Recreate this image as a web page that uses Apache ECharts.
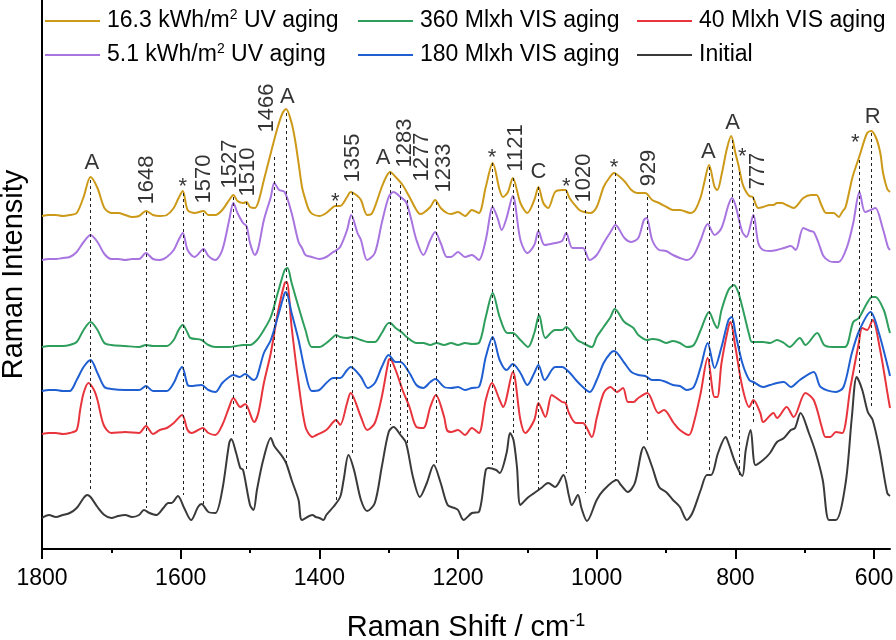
<!DOCTYPE html>
<html><head><meta charset="utf-8">
<script src="https://cdn.jsdelivr.net/npm/echarts@6/dist/echarts.min.js"></script>
<style>html,body{margin:0;padding:0;background:#fff}#c{width:896px;height:640px}</style>
</head><body><div id="c"></div>
<script>
// ---------- data (Raman shift in cm-1, intensity in offset arbitrary units) ----------
const seriesNames = ['16.3 kWh/m2 UV aging','360 Mlxh VIS aging','40 Mlxh VIS aging','5.1 kWh/m2 UV aging','180 Mlxh VIS aging','Initial'];
const majorTicks = [1800,1600,1400,1200,1000,800,600];
const minorTicks = [1700,1500,1300,1100,900,700];

const uv16 = [[1800,332],[1790,333],[1780,333],[1770,332],[1760,333],[1750,335],[1740,351],[1730,371],[1720,360],[1710,340],[1700,335],[1690,335],[1680,333],[1670,331],[1660,332],[1650,337],[1640,333],[1630,332],[1620,333],[1610,340],[1603,350],[1597,357],[1590,338],[1580,335],[1567,337],[1560,333],[1550,333],[1540,338],[1530,348],[1524,353],[1518,347],[1510,345],[1505,346],[1500,341],[1493,340],[1488,346],[1480,368],[1470,395],[1460,421],[1453,435],[1448,439],[1440,425],[1435,408],[1430,385],[1425,361],[1420,348],[1415,338],[1410,334],[1400,332],[1390,335],[1380,341],[1377,342],[1370,342],[1360,351],[1355,356],[1345,352],[1340,348],[1331,333],[1325,334],[1320,341],[1310,361],[1303,372],[1298,376],[1290,371],[1280,363],[1270,351],[1260,338],[1255,334],[1250,335],[1240,341],[1233,348],[1225,340],[1216,335],[1210,334],[1200,336],[1190,332],[1180,338],[1170,335],[1160,361],[1150,385],[1140,358],[1135,351],[1128,356],[1121,370],[1110,345],[1100,335],[1090,348],[1084,361],[1077,345],[1070,340],[1060,356],[1050,358],[1045,358],[1040,351],[1034,345],[1025,338],[1018,336],[1009,335],[1000,341],[990,361],[982,370],[975,375],[968,372],[959,366],[950,358],[942,355],[930,355],[920,348],[910,345],[899,341],[890,338],[880,338],[865,335],[858,338],[850,351],[845,365],[838,383],[830,361],[826,358],[820,373],[812,400],[806,412],[800,395],[795,381],[790,365],[786,358],[780,352],[775,351],[767,340],[760,341],[750,343],[745,343],[740,345],[733,345],[726,343],[716,340],[702,350],[691,353],[683,353],[676,343],[669,335],[658,335],[651,331],[646,336],[641,341],[631,371],[621,392],[610,415],[604,417],[597,410],[591,395],[587,375],[581,359],[577,356]];

const vis360 = [[1800,201],[1790,202],[1780,202],[1770,202],[1760,203],[1750,206],[1740,218],[1730,226],[1720,218],[1710,205],[1700,203],[1680,202],[1660,201],[1650,203],[1640,202],[1620,202],[1610,208],[1603,218],[1597,223],[1590,215],[1586,210],[1570,208],[1560,203],[1550,201],[1540,201],[1530,201],[1520,202],[1510,203],[1500,203],[1490,208],[1480,218],[1470,231],[1460,255],[1450,278],[1446,280],[1440,265],[1430,241],[1420,218],[1411,201],[1400,201],[1390,205],[1380,211],[1376,213],[1370,211],[1360,210],[1353,211],[1340,208],[1330,206],[1320,206],[1310,215],[1300,225],[1298,225],[1290,220],[1280,215],[1274,211],[1260,205],[1250,205],[1240,203],[1231,205],[1220,203],[1210,205],[1200,203],[1190,205],[1180,204],[1170,205],[1160,231],[1150,255],[1140,231],[1129,215],[1121,215],[1110,208],[1099,201],[1090,215],[1083,233],[1074,210],[1060,218],[1050,218],[1044,221],[1028,208],[1020,205],[1007,201],[1000,211],[990,221],[980,231],[974,239],[960,226],[947,220],[940,213],[927,208],[920,209],[910,208],[900,205],[890,207],[880,205],[870,201],[860,203],[850,218],[838,236],[830,224],[826,220],[820,238],[810,258],[802,263],[796,256],[790,241],[780,213],[776,206],[760,206],[750,205],[740,208],[730,205],[722,201],[707,210],[699,203],[682,215],[672,203],[660,201],[642,201],[630,226],[622,230],[610,245],[603,251],[598,251],[586,238],[579,220],[577,215]];

const vis40 = [[1800,114],[1790,115],[1780,115],[1770,114],[1760,115],[1750,118],[1745,138],[1740,155],[1733,165],[1725,158],[1720,148],[1711,123],[1700,115],[1680,116],[1660,115],[1650,122],[1640,114],[1630,118],[1620,120],[1610,125],[1598,133],[1590,118],[1584,115],[1568,120],[1560,115],[1550,113],[1540,123],[1530,141],[1524,150],[1514,141],[1507,144],[1494,126],[1488,135],[1480,165],[1470,195],[1460,235],[1450,265],[1447,266],[1440,221],[1430,165],[1420,121],[1410,111],[1404,113],[1390,118],[1380,126],[1376,128],[1370,123],[1360,145],[1355,155],[1340,131],[1331,118],[1320,125],[1310,151],[1300,188],[1298,189],[1290,178],[1280,158],[1270,141],[1260,121],[1250,120],[1240,141],[1232,153],[1220,131],[1216,118],[1210,116],[1200,118],[1190,113],[1180,120],[1170,115],[1160,148],[1151,165],[1140,148],[1135,141],[1121,176],[1110,128],[1103,115],[1090,128],[1084,145],[1074,131],[1065,153],[1060,151],[1050,146],[1045,145],[1040,135],[1030,125],[1020,125],[1007,111],[1000,130],[990,155],[980,161],[971,156],[962,160],[955,146],[947,146],[940,150],[927,155],[911,135],[903,138],[889,125],[880,118],[867,113],[860,125],[850,155],[840,190],[830,151],[826,151],[820,185],[810,221],[807,226],[800,201],[790,161],[780,141],[774,148],[764,135],[760,126],[745,135],[740,130],[726,141],[716,131],[699,155],[687,148],[675,120],[670,111],[663,111],[655,116],[646,115],[634,161],[622,205],[617,220],[610,218],[602,228],[592,201],[579,148],[577,140]];

const uv5 = [[1800,288],[1790,289],[1780,289],[1770,290],[1760,291],[1750,296],[1740,306],[1730,313],[1720,306],[1710,294],[1700,289],[1690,289],[1680,288],[1670,289],[1660,289],[1650,295],[1640,289],[1630,288],[1620,291],[1610,298],[1603,308],[1597,315],[1590,298],[1580,291],[1567,299],[1560,292],[1550,288],[1540,298],[1530,328],[1524,345],[1518,335],[1510,325],[1505,322],[1500,305],[1493,293],[1488,300],[1480,328],[1470,351],[1465,365],[1458,358],[1450,356],[1440,335],[1430,306],[1425,300],[1420,293],[1411,291],[1400,289],[1390,291],[1380,296],[1377,297],[1370,301],[1360,318],[1354,333],[1345,315],[1340,308],[1331,288],[1320,295],[1310,325],[1300,351],[1293,356],[1283,351],[1275,346],[1268,330],[1260,308],[1250,293],[1240,308],[1233,316],[1225,305],[1216,291],[1210,291],[1200,296],[1190,291],[1180,293],[1170,288],[1160,308],[1150,341],[1143,330],[1137,318],[1130,330],[1121,352],[1110,308],[1100,295],[1090,303],[1084,317],[1075,303],[1060,305],[1050,307],[1044,315],[1035,300],[1020,300],[1010,288],[1000,293],[990,305],[980,316],[973,323],[960,310],[950,306],[940,310],[932,328],[928,330],[920,308],[910,298],[900,297],[890,293],[880,290],[870,288],[860,293],[850,308],[840,324],[830,313],[820,320],[810,343],[805,350],[800,343],[790,316],[784,311],[774,333],[767,305],[760,298],[750,297],[740,298],[730,300],[720,302],[713,298],[702,320],[692,317],[687,316],[680,305],[673,292],[665,287],[658,286],[651,286],[639,301],[630,325],[621,356],[613,336],[605,338],[598,340],[588,321],[580,301],[577,298]];

const vis180 = [[1800,157],[1790,158],[1780,158],[1770,157],[1760,157],[1750,168],[1740,181],[1730,188],[1720,175],[1710,161],[1700,159],[1680,158],[1660,158],[1650,162],[1640,157],[1620,157],[1610,165],[1603,176],[1598,181],[1590,163],[1586,162],[1570,163],[1560,158],[1550,156],[1540,165],[1530,171],[1524,173],[1515,171],[1507,174],[1495,168],[1490,171],[1480,195],[1470,208],[1460,231],[1450,255],[1448,256],[1440,235],[1430,208],[1420,175],[1411,157],[1400,158],[1390,165],[1380,170],[1370,170],[1360,178],[1355,181],[1340,171],[1330,160],[1320,165],[1310,181],[1300,193],[1290,186],[1283,186],[1270,175],[1260,163],[1250,160],[1240,166],[1233,169],[1220,161],[1210,160],[1200,161],[1190,158],[1180,160],[1170,161],[1160,191],[1150,211],[1140,188],[1130,178],[1121,184],[1110,175],[1100,163],[1090,175],[1084,183],[1075,168],[1060,181],[1050,181],[1040,176],[1030,168],[1020,161],[1010,156],[1000,168],[990,185],[980,195],[975,197],[960,185],[950,176],[940,173],[930,172],[920,168],[910,168],[900,166],[890,163],[880,162],[870,158],[860,161],[850,181],[840,205],[830,180],[820,201],[810,228],[805,231],[800,215],[790,185],[780,168],[774,166],[760,161],[750,163],[740,165],[730,166],[720,161],[707,168],[687,176],[677,161],[655,156],[644,161],[632,195],[621,218],[605,236],[593,215],[579,178],[577,172]];

const initial = [[1800,30],[1790,33],[1780,31],[1770,33],[1760,35],[1750,40],[1740,50],[1735,53],[1730,51],[1720,41],[1710,33],[1700,30],[1690,32],[1680,33],[1670,31],[1660,33],[1653,38],[1645,35],[1635,33],[1625,40],[1618,45],[1613,45],[1604,52],[1595,40],[1585,28],[1575,41],[1570,44],[1560,36],[1550,35],[1540,58],[1530,105],[1527,109],[1520,95],[1514,80],[1510,78],[1500,43],[1495,38],[1490,58],[1481,88],[1470,110],[1465,102],[1455,93],[1448,85],[1440,68],[1430,48],[1425,28],[1410,33],[1405,31],[1400,30],[1394,28],[1390,33],[1380,41],[1370,51],[1365,68],[1358,93],[1350,78],[1340,48],[1331,37],[1320,45],[1310,81],[1300,116],[1293,121],[1283,113],[1275,105],[1265,71],[1255,51],[1245,65],[1235,83],[1225,65],[1215,43],[1205,40],[1200,38],[1192,28],[1180,35],[1170,36],[1160,78],[1156,80],[1145,78],[1140,75],[1130,95],[1125,115],[1120,108],[1115,81],[1110,43],[1100,50],[1090,55],[1080,60],[1070,65],[1060,61],[1048,73],[1040,52],[1036,43],[1027,53],[1022,40],[1014,27],[1000,48],[990,58],[971,68],[965,63],[955,56],[945,65],[932,101],[920,81],[910,61],[900,56],[890,48],[880,41],[870,28],[862,35],[850,58],[841,73],[835,73],[825,95],[814,111],[810,105],[800,85],[790,72],[785,98],[778,118],[771,83],[760,88],[750,95],[740,106],[730,110],[720,118],[714,120],[706,135],[694,115],[684,95],[674,68],[665,28],[655,28],[641,65],[632,131],[625,171],[617,158],[609,136],[602,128],[592,98],[581,55],[577,52]];

// dashed marker lines: [shift, top, bottom]
const peakLines = [[1730,368,56],[1649,336,40],[1597,355,53],[1567,335,43],[1524,351,111],[1506,346,78],[1465,391,115],[1448,435,85],[1376,345,45],[1353,356,95],[1298,376,123],[1283,363,115],[1273,348,105],[1231,346,83],[1150,385,83],[1121,370,115],[1084,361,58],[1044,358,75],[1016,338,55],[973,375,68],[927,351,105],[838,381,78],[805,408,111],[795,376,73],[774,351,123],[621,388,175],[604,415,141]];
// upright labels: [text, shift, height]
const letterLabels = [['A',1728,385],['*',1597,361],['A',1446,451],['*',1377,346],['A',1308,390],['*',1151,390],['C',1084,376],['*',1044,361],['*',975,380],['A',839,396],['A',804,425],['*',790,391],['*',627,405],['R',602,431]];
// rotated number labels: [text, shift, height]
const numberLabels = [['1648',1649,368],['1570',1566,369],['1527',1529,384],['1510',1503,376],['1466',1475,440],['1355',1351,390],['1283',1276,405],['1277',1252,391],['1233',1221,380],['1121',1117,400],['1020',1018,370],['929',924,380],['777',768,377]];

// ---------- chart ----------
const FONT = 'Liberation Sans, Arial, sans-serif';
const colors = ['#cc9a18','#2e9e5c','#e8343c','#a874e0','#1f5fd2','#3a3a3a'];
const dataSets = [uv16, vis360, vis40, uv5, vis180, initial];
const legendPos = [[45,8],[358,8],[637,8],[45,42],[358,42],[637,42]];
const drawOrder = [5,2,4,1,3,0];

const lineSeries = drawOrder.map(i => ({
  name: seriesNames[i], type: 'line', data: dataSets[i], showSymbol: false, symbol: 'none',
  smooth: 0.3, lineStyle: {color: colors[i], width: 2}, itemStyle: {color: colors[i]},
  silent: true, z: 3
}));

const option = {
  animation: false,
  backgroundColor: '#fff',
  grid: {left: 42, right: 6, top: 0, bottom: 91, containLabel: false, outerBoundsMode: 'none'},
  xAxis: [
    {type: 'value', inverse: true, min: 577, max: 1800, position: 'bottom',
     axisLine: {show: true, onZero: false, lineStyle: {color: '#000', width: 2}},
     axisTick: {show: true, length: 10, customValues: majorTicks, lineStyle: {color: '#000', width: 2}},
     axisLabel: {show: true, customValues: majorTicks, formatter: v => String(v), fontSize: 23, color: '#000', fontFamily: FONT, margin: 18},
     splitLine: {show: false},
     name: 'Raman Shift / cm{sup|-1}', nameLocation: 'middle', nameGap: 63,
     nameTextStyle: {fontSize: 29, color: '#000', fontFamily: FONT, lineHeight: 32,
       rich: {sup: {fontSize: 18, color: '#000', fontFamily: FONT, verticalAlign: 'top', lineHeight: 18}}}},
    {type: 'value', inverse: true, min: 577, max: 1800, position: 'bottom',
     axisLine: {show: false},
     axisTick: {show: true, length: 5, customValues: minorTicks, lineStyle: {color: '#000', width: 2}},
     axisLabel: {show: false}, splitLine: {show: false}}
  ],
  yAxis: {type: 'value', min: -1, max: 548,
    axisLine: {show: true, onZero: false, lineStyle: {color: '#000', width: 2}},
    axisTick: {show: false}, axisLabel: {show: false}, splitLine: {show: false},
    name: 'Raman Intensity', nameLocation: 'middle', nameGap: 14,
    nameTextStyle: {fontSize: 29, color: '#000', fontFamily: FONT}},
  legend: seriesNames.map((n, i) => ({
    data: [n], left: legendPos[i][0], top: legendPos[i][1], padding: 0,
    itemWidth: 55, itemHeight: 2, icon: 'rect', selectedMode: false,
    formatter: s => s.replace('m2', 'm{sup|2}'),
    textStyle: {fontSize: 23, color: '#000', fontFamily: FONT, lineHeight: 26, padding: [0,0,0,2],
      rich: {sup: {fontSize: 14, color: '#000', fontFamily: FONT, verticalAlign: 'top', lineHeight: 14}}}
  })),
  series: [
    {type: 'scatter', data: [], silent: true, z: 1,
     markLine: {silent: true, symbol: ['none','none'], label: {show: false}, animation: false,
       lineStyle: {color: '#222', width: 1, type: [3,3]},
       emphasis: {disabled: true},
       data: peakLines.map(([w,t,b]) => [{coord: [w,t]}, {coord: [w,b]}])}},
    ...lineSeries,
    {type: 'scatter', symbolSize: 1, itemStyle: {color: 'rgba(0,0,0,0)'}, silent: true, z: 5,
     data: letterLabels.map(([t,w,h]) => ({name: t, value: [w,h]})),
     label: {show: true, position: 'inside', formatter: '{b}', fontSize: 22, color: '#000', fontFamily: FONT}},
    {type: 'scatter', symbolSize: 1, itemStyle: {color: 'rgba(0,0,0,0)'}, silent: true, z: 5,
     data: numberLabels.map(([t,w,h]) => ({name: t, value: [w,h]})),
     label: {show: true, position: 'inside', rotate: 90, formatter: '{b}', fontSize: 22, color: '#000', fontFamily: FONT}}
  ]
};
const chart = echarts.init(document.getElementById('c'), null, {renderer: 'canvas'});
chart.setOption(option);
</script></body></html>
